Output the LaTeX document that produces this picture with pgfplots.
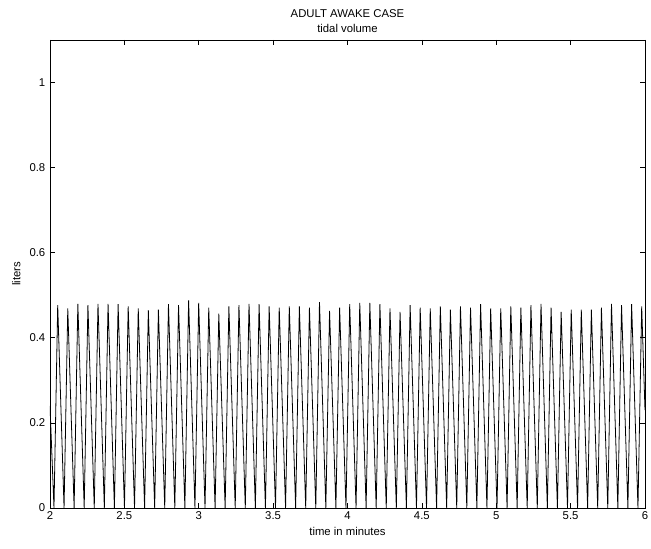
\documentclass[border=0pt]{standalone}
\usepackage{fontspec}
\setmainfont{Liberation Sans}
\usepackage{pgfplots}
\pgfplotsset{compat=1.18}

\begin{document}
\begin{tikzpicture}
% page = 651x549 px at 0.75pt per px; axis box at px (50,40)-(645,508)
\useasboundingbox (-37.5pt,-30.75pt) rectangle (450.75pt,381pt);
\begin{axis}[
  at={(0,0)}, anchor=south west,
  scale only axis,
  width=446.25pt, height=351pt,
  xmin=2, xmax=6, ymin=0, ymax=1.1,
  xtick={2,2.5,...,6},
  ytick={0,0.2,0.4,0.6,0.8,1},
  tick align=inside,
  major tick length=4pt,
  axis line style={line width=0.6pt},
  tick style={line width=0.5pt, black},
  /pgf/number format/assume math mode=true,
  tick label style={font=\fontsize{8.5}{10}\selectfont},
  xticklabel style={yshift=1pt},
  title={ADULT AWAKE CASE\\tidal volume},
  title style={align=center, font=\fontsize{8.5}{11.5}\selectfont, inner sep=1pt, yshift=-2pt},
  xlabel={time in minutes},
  ylabel={liters},
  label style={font=\fontsize{8.5}{10}\selectfont},
  xlabel style={yshift=1pt},
  ylabel style={yshift=0pt},
]
\addplot[black, line width=0.6pt] coordinates {
  (2,0.24) (2.0268,0)
  (2.0518,0.477) (2.0945,0) (2.1195,0.469) (2.1622,0) (2.1872,0.480) (2.2299,0)
  (2.2549,0.477) (2.2976,0) (2.3226,0.480) (2.3653,0) (2.3903,0.480) (2.4330,0)
  (2.4579,0.479) (2.5006,0) (2.5256,0.474) (2.5683,0) (2.5933,0.469) (2.6360,0)
  (2.6610,0.465) (2.7037,0) (2.7287,0.466) (2.7714,0) (2.7964,0.479) (2.8391,0)
  (2.8641,0.477) (2.9068,0) (2.9318,0.488) (2.9745,0) (2.9995,0.482) (3.0422,0)
  (3.0672,0.471) (3.1099,0) (3.1348,0.457) (3.1775,0) (3.2025,0.474) (3.2452,0)
  (3.2702,0.477) (3.3129,0) (3.3379,0.480) (3.3806,0) (3.4056,0.479) (3.4483,0)
  (3.4733,0.474) (3.5160,0) (3.5410,0.471) (3.5837,0) (3.6087,0.474) (3.6514,0)
  (3.6764,0.474) (3.7191,0) (3.7441,0.471) (3.7868,0) (3.8117,0.484) (3.8544,0)
  (3.8794,0.463) (3.9221,0) (3.9471,0.471) (3.9898,0) (4.0148,0.479) (4.0575,0)
  (4.0825,0.482) (4.1252,0) (4.1502,0.482) (4.1929,0) (4.2179,0.479) (4.2606,0)
  (4.2856,0.469) (4.3283,0) (4.3533,0.461) (4.3960,0) (4.4210,0.477) (4.4637,0)
  (4.4886,0.471) (4.5313,0) (4.5563,0.469) (4.5990,0) (4.6240,0.474) (4.6667,0)
  (4.6917,0.466) (4.7344,0) (4.7594,0.474) (4.8021,0) (4.8271,0.471) (4.8698,0)
  (4.8948,0.479) (4.9375,0) (4.9625,0.469) (5.0052,0) (5.0302,0.469) (5.0729,0)
  (5.0979,0.474) (5.1406,0) (5.1655,0.471) (5.2082,0) (5.2332,0.477) (5.2759,0)
  (5.3009,0.480) (5.3436,0) (5.3686,0.471) (5.4113,0) (5.4363,0.461) (5.4790,0)
  (5.5040,0.466) (5.5467,0) (5.5717,0.466) (5.6144,0) (5.6394,0.466) (5.6821,0)
  (5.7071,0.471) (5.7498,0) (5.7748,0.480) (5.8175,0) (5.8424,0.477) (5.8851,0)
  (5.9101,0.479) (5.9528,0) (5.9778,0.474) (6,0.23)
};
\end{axis}
\end{tikzpicture}
\end{document}
